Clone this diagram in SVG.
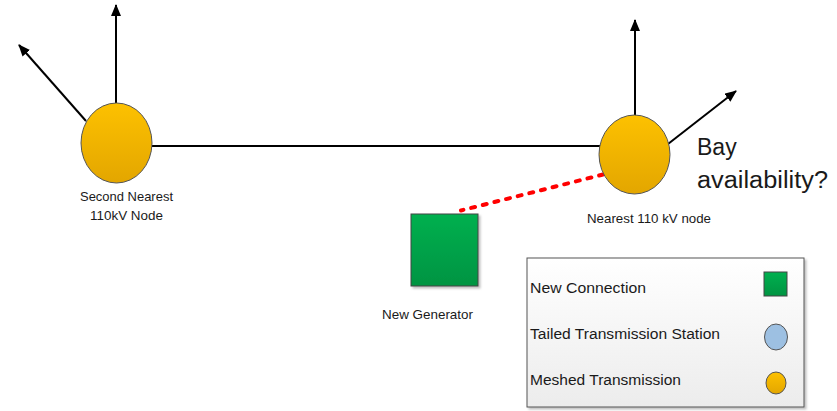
<svg xmlns="http://www.w3.org/2000/svg" width="837" height="411" viewBox="0 0 837 411">
  <style>
    .lbl { font-family: "Liberation Sans", Arial, sans-serif; fill: #1a1a1a; }
    .small { font-size: 13px; }
    .leg { font-size: 15.5px; }
    .big { font-size: 23px; }
    .wire { stroke: #000; stroke-width: 2; fill: none; }
    .node { stroke: #555; stroke-width: 1; }
  </style>
  <defs>
    <linearGradient id="gold" x1="0" y1="0" x2="0" y2="1">
      <stop offset="0" stop-color="#fdc100"/>
      <stop offset="1" stop-color="#e3a600"/>
    </linearGradient>
    <linearGradient id="green" x1="0" y1="0" x2="0" y2="1">
      <stop offset="0" stop-color="#00b04f"/>
      <stop offset="1" stop-color="#009442"/>
    </linearGradient>
    <linearGradient id="panel" x1="0" y1="0" x2="0" y2="1">
      <stop offset="0" stop-color="#ffffff"/>
      <stop offset="1" stop-color="#ececec"/>
    </linearGradient>
    <marker id="arrow" viewBox="0 0 12 10" refX="11" refY="5" markerWidth="12" markerHeight="10" markerUnits="userSpaceOnUse" orient="auto">
      <path d="M0,0 L12,5 L0,10 Z" fill="#000"/>
    </marker>
    <filter id="shadow" x="-10%" y="-10%" width="130%" height="130%">
      <feDropShadow dx="2" dy="2" stdDeviation="1" flood-color="#000" flood-opacity="0.25"/>
    </filter>
  </defs>

  <!-- connectors -->
  <g id="connectors">
    <line class="wire" x1="152" y1="146" x2="603" y2="146"/>
    <line class="wire" x1="116" y1="103" x2="116" y2="5" marker-end="url(#arrow)"/>
    <line class="wire" x1="86" y1="121" x2="19" y2="45" marker-end="url(#arrow)"/>
    <line class="wire" x1="635" y1="116" x2="635" y2="20" marker-end="url(#arrow)"/>
    <line class="wire" x1="668" y1="144" x2="736" y2="91" marker-end="url(#arrow)"/>
    <line x1="603" y1="174.5" x2="461" y2="210.5" stroke="#ff0000" stroke-width="4" stroke-dasharray="4,8" stroke-linecap="round"/>
  </g>

  <!-- second nearest node -->
  <g id="second-nearest">
    <ellipse class="node" cx="116.5" cy="143" rx="35.5" ry="40" fill="url(#gold)"/>
    <text class="lbl small" x="80" y="201" textLength="93" lengthAdjust="spacingAndGlyphs">Second Nearest</text>
    <text class="lbl small" x="90" y="220" textLength="73" lengthAdjust="spacingAndGlyphs">110kV Node</text>
  </g>

  <!-- nearest node -->
  <g id="nearest">
    <ellipse class="node" cx="634.5" cy="154.5" rx="35.5" ry="39.5" fill="url(#gold)"/>
    <text class="lbl small" x="587" y="223" textLength="124" lengthAdjust="spacingAndGlyphs">Nearest 110 kV node</text>
  </g>

  <!-- bay question -->
  <g id="bay-note">
    <text class="lbl big" x="697" y="155">Bay</text>
    <text class="lbl big" x="697" y="188" textLength="131" lengthAdjust="spacingAndGlyphs">availability?</text>
  </g>

  <!-- generator -->
  <g id="generator">
    <rect x="411" y="214" width="67" height="72" fill="url(#green)" stroke="#444" stroke-width="1" filter="url(#shadow)"/>
    <text class="lbl small" x="382" y="319" textLength="91" lengthAdjust="spacingAndGlyphs">New Generator</text>
  </g>

  <!-- legend -->
  <g id="legend">
    <rect x="527" y="258" width="277" height="149" fill="url(#panel)" stroke="#555" stroke-width="1" filter="url(#shadow)"/>
    <text class="lbl leg" x="530" y="293" textLength="116" lengthAdjust="spacingAndGlyphs">New Connection</text>
    <text class="lbl leg" x="530" y="339" textLength="190" lengthAdjust="spacingAndGlyphs">Tailed Transmission Station</text>
    <text class="lbl leg" x="530" y="385" textLength="151" lengthAdjust="spacingAndGlyphs">Meshed Transmission</text>
    <rect x="764" y="272" width="23" height="24" fill="url(#green)" stroke="#444" stroke-width="1"/>
    <ellipse class="node" cx="776" cy="337" rx="11.5" ry="13" fill="#9dc0e2"/>
    <ellipse class="node" cx="776" cy="383" rx="10" ry="11" fill="url(#gold)"/>
  </g>
</svg>
